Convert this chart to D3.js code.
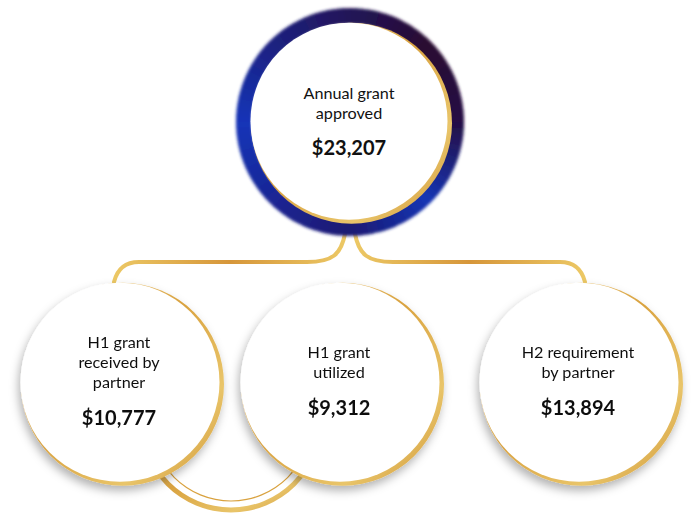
<!DOCTYPE html>
<html>
<head>
<meta charset="utf-8">
<script src="https://cdn.jsdelivr.net/npm/d3@7"></script>
<style>
  body { margin: 0; background: #fff; }
  svg { display: block; }
  text { font-family: Lato, "Noto Sans", sans-serif; fill: #111; }
</style>
</head>
<body>
<div id="chart"></div>
<script>

// data
var rootLabel = ["Annual grant", "approved"];
var rootValue = 23207;
var childLabels = [
  ["H1 grant", "received by", "partner"],
  ["H1 grant", "utilized"],
  ["H2 requirement", "by partner"]
];
var childValues = [10777, 9312, 13894];

var width = 695,
    height = 516;

var format = d3.format("$,");

var svg = d3.select("#chart")
    .append("svg")
    .attr("width", width)
    .attr("height", height);

var defs = svg.append("defs");

// gold gradient for the rims and connectors
var gold = defs.append("linearGradient")
    .attr("id", "gold")
    .attr("x1", "0%").attr("y1", "0%")
    .attr("x2", "100%").attr("y2", "100%");
gold.append("stop").attr("offset", "0%").attr("stop-color", "#f6e3a6");
gold.append("stop").attr("offset", "45%").attr("stop-color", "#d9a23f");
gold.append("stop").attr("offset", "75%").attr("stop-color", "#e9c56a");
gold.append("stop").attr("offset", "100%").attr("stop-color", "#cf9435");

var lineGold = defs.append("linearGradient")
    .attr("id", "lineGold")
    .attr("x1", "0%").attr("y1", "0%")
    .attr("x2", "100%").attr("y2", "0%");
lineGold.append("stop").attr("offset", "0%").attr("stop-color", "#ecc865");
lineGold.append("stop").attr("offset", "50%").attr("stop-color", "#d6963a");
lineGold.append("stop").attr("offset", "100%").attr("stop-color", "#ecc865");

// soft shadow under the circles
var shadow = defs.append("filter")
    .attr("id", "shadow")
    .attr("x", "-30%").attr("y", "-30%")
    .attr("width", "160%").attr("height", "160%");
shadow.append("feDropShadow")
    .attr("dx", -2).attr("dy", 5)
    .attr("stdDeviation", 5)
    .attr("flood-color", "#000")
    .attr("flood-opacity", 0.3);

var blur = defs.append("filter")
    .attr("id", "blur")
    .attr("x", "-20%").attr("y", "-20%")
    .attr("width", "140%").attr("height", "140%");
blur.append("feGaussianBlur").attr("stdDeviation", 1.6);

// layout of the nodes
var root = {x: 350, y: 122, r: 100};
var xChild = d3.scaleLinear().domain([0, 1, 2]).range([121, 341, 580]);
var childY = 383,
    childR = 100,
    busY = 262;

// connectors from the root to the children
var connectors = svg.append("g")
    .attr("fill", "none")
    .attr("stroke", "url(#lineGold)")
    .attr("stroke-width", 4)
    .attr("stroke-linecap", "round");

var turn = 22;
[0, 2].forEach(function(i) {
  var dir = i == 0 ? -1 : 1;
  var sx = root.x + dir * 5,
      ex = xChild(i) + (i == 0 ? -4 : 2);
  var p = d3.path();
  p.moveTo(sx, root.y + root.r + 12);
  p.bezierCurveTo(sx + dir * 4, busY - 8, sx + dir * 12, busY, sx + dir * 38, busY);
  p.lineTo(ex - dir * turn, busY);
  p.bezierCurveTo(ex - dir * 8, busY, ex, busY + 8, ex + dir * 3, busY + 20);
  connectors.append("path").attr("d", p.toString());
});

// half ring below the two left circles
var ringX = (xChild(0) + xChild(1)) / 2;
var halfRing = svg.append("g")
    .attr("transform", "translate(" + ringX + ",421)");
halfRing.append("path")
    .attr("d", d3.arc()({innerRadius: 86.5, outerRadius: 91.5,
                         startAngle: Math.PI / 2, endAngle: 3 * Math.PI / 2}))
    .attr("fill", "url(#gold)");
halfRing.append("path")
    .attr("d", d3.arc()({innerRadius: 79.4, outerRadius: 80.6,
                         startAngle: Math.PI / 2, endAngle: 3 * Math.PI / 2}))
    .attr("fill", "#d9a23f");

// root ring, drawn as many small arcs to get a sweep of colour
var ringColor = d3.scaleLinear()
    .domain([0, 45, 90, 135, 180, 225, 270, 315, 360])
    .range(["#221558", "#2a0a32", "#251045", "#1535b4", "#1c1a72",
            "#1a2594", "#1234b8", "#1d2180", "#221558"])
    .interpolate(d3.interpolateRgb);

var arc = d3.arc()
    .innerRadius(root.r - 2)
    .outerRadius(root.r + 14);

var ringG = svg.append("g")
    .attr("transform", "translate(" + root.x + "," + root.y + ")")
    .attr("filter", "url(#blur)");

d3.range(0, 360, 3).forEach(function(a) {
  ringG.append("path")
      .attr("d", arc({startAngle: a * Math.PI / 180, endAngle: (a + 3.6) * Math.PI / 180}))
      .attr("fill", ringColor(a + 1.5));
});

// draw a white disc with gold rim
function disc(g, cx, cy, r) {
  g.append("circle")
      .attr("cx", cx + 1.5).attr("cy", cy + 1.2)
      .attr("r", r + 1.5)
      .attr("fill", "url(#gold)");
  g.append("circle")
      .attr("cx", cx - 1).attr("cy", cy - 0.8)
      .attr("r", r - 0.5)
      .attr("fill", "#fff");
}

var rootG = svg.append("g");
disc(rootG, root.x, root.y, root.r - 1);

rootG.selectAll(".label")
    .data(rootLabel)
    .enter()
    .append("text")
    .attr("x", root.x - 1)
    .attr("y", function(d, i) { return 99 + i * 20; })
    .attr("text-anchor", "middle")
    .attr("font-size", "16.2px")
    .text(function(d) { return d; });

rootG.append("text")
    .attr("x", root.x - 1)
    .attr("y", 155)
    .attr("text-anchor", "middle")
    .attr("font-size", "20px")
    .attr("font-weight", "bold")
    .text(format(rootValue));

// the three children
var nodes = svg.selectAll(".node")
    .data(childValues)
    .enter()
    .append("g")
    .attr("class", "node")
    .attr("filter", "url(#shadow)");

nodes.each(function(d, i) {
  var g = d3.select(this);
  var cx = xChild(i);
  disc(g, cx, childY, childR);

  var lines = childLabels[i];
  var top = lines.length == 3 ? 348 : 358;
  g.selectAll("text.label")
      .data(lines)
      .enter()
      .append("text")
      .attr("class", "label")
      .attr("x", cx - 2)
      .attr("y", function(t, j) { return top + j * 20; })
      .attr("text-anchor", "middle")
      .attr("font-size", "16.2px")
      .text(function(t) { return t; });

  g.append("text")
      .attr("x", cx - 2)
      .attr("y", top + (lines.length - 1) * 20 + 37)
      .attr("text-anchor", "middle")
      .attr("font-size", "20px")
      .attr("font-weight", "bold")
      .text(format(d));
});

</script>
</body>
</html>
